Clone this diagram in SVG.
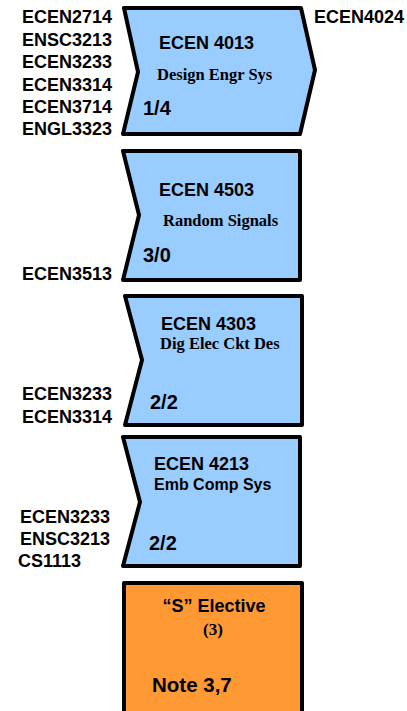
<svg xmlns="http://www.w3.org/2000/svg" width="407" height="711" viewBox="0 0 407 711">
<style>
.box{fill:#99CCFF;stroke:#000;stroke-width:4;stroke-linejoin:round}
.el{fill:#FF9933;stroke:#000;stroke-width:4;stroke-linejoin:round}
.lbl{font-family:"Liberation Sans",Arial,sans-serif;font-weight:bold;font-size:18px;fill:#000}
.r{text-anchor:end}
.t{font-family:"Liberation Sans",Arial,sans-serif;font-weight:bold;font-size:18px;fill:#000}
.s{font-family:"Liberation Serif","Times New Roman",serif;font-weight:bold;font-size:16.5px;fill:#000}
.n{font-family:"Liberation Sans",Arial,sans-serif;font-weight:bold;font-size:20px;fill:#000}
</style>
<rect width="407" height="711" fill="#fff"/>
<g id="connectors"></g>
<g id="ecen4013">
<polygon class="box" points="124,8 301,8 315,70 300,134 123,134 138,72"/>
<text class="t" x="159" y="49">ECEN 4013</text>
<text class="s" x="157" y="80">Design Engr Sys</text>
<text class="n" x="143" y="115">1/4</text>
</g>
<g id="prereq4013">
<text class="lbl r" x="112" y="23">ECEN2714</text>
<text class="lbl r" x="112" y="46">ENSC3213</text>
<text class="lbl r" x="112" y="68">ECEN3233</text>
<text class="lbl r" x="112" y="91">ECEN3314</text>
<text class="lbl r" x="112" y="113">ECEN3714</text>
<text class="lbl r" x="112" y="135">ENGL3323</text>
</g>
<g id="ecen4024">
<text class="lbl" x="314" y="23">ECEN4024</text>
</g>
<g id="ecen4503">
<polygon class="box" points="123,151 300,151 300,280 123,280 139,215"/>
<text class="t" x="159" y="196">ECEN 4503</text>
<text class="s" x="163" y="226">Random Signals</text>
<text class="n" x="143" y="262">3/0</text>
<text class="lbl r" x="112" y="280">ECEN3513</text>
</g>
<g id="ecen4303">
<polygon class="box" points="125,296 302,296 302,425 125,425 142,360"/>
<text class="t" x="161" y="330">ECEN 4303</text>
<text class="s" x="160" y="349">Dig Elec Ckt Des</text>
<text class="n" x="150" y="409">2/2</text>
<text class="lbl r" x="112" y="400">ECEN3233</text>
<text class="lbl r" x="112" y="423">ECEN3314</text>
</g>
<g id="ecen4213">
<polygon class="box" points="123,437 300,437 300,566 123,566 140,502"/>
<text class="t" x="154" y="470">ECEN 4213</text>
<text class="lbl" x="154" y="490" style="font-size:16px">Emb Comp Sys</text>
<text class="n" x="149" y="550">2/2</text>
<text class="lbl r" x="110" y="523">ECEN3233</text>
<text class="lbl r" x="110" y="545">ENSC3213</text>
<text class="lbl" x="18" y="567">CS1113</text>
</g>
<g id="selective">
<rect class="el" x="124" y="583" width="178" height="140"/>
<text class="lbl" x="214" y="612" text-anchor="middle">“S” Elective</text>
<text class="s" x="213" y="635" text-anchor="middle" style="font-size:17px">(3)</text>
<text class="n" x="152" y="692" style="font-size:20.5px">Note 3,7</text>
</g>
</svg>
